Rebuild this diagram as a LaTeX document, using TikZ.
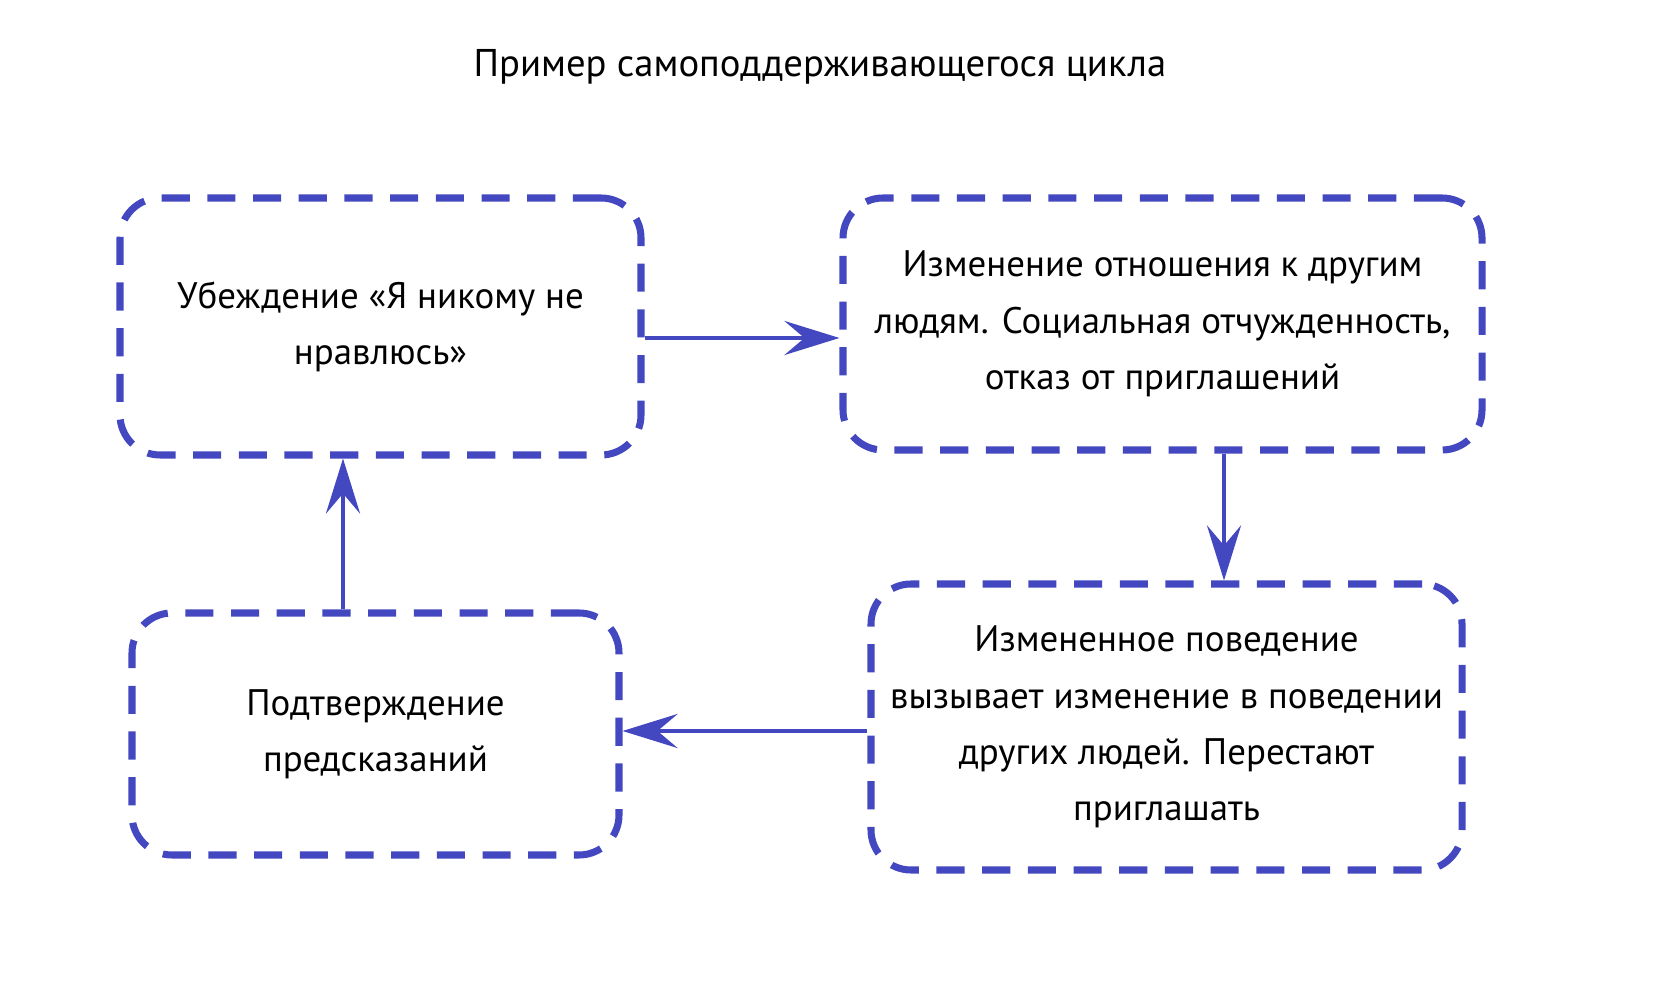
\documentclass[tikz,border=0pt]{standalone}
\usepackage{fontspec}
\setmainfont{PT Sans}
\usetikzlibrary{positioning}
\usetikzlibrary{arrows.meta}
\definecolor{cyclecol}{RGB}{68,72,192}

\begin{document}
\begin{tikzpicture}[
	box/.style={draw=cyclecol, line width=2pt, dash pattern=on 8pt off 5pt, rounded corners=4mm, align=center, inner sep=0pt, font=\fontsize{10.5}{16}\selectfont},
	link/.style={draw=cyclecol, line width=1.4pt, -{Stealth[length=5.5mm,width=3.4mm,inset=2mm]}}]
					\useasboundingbox (0,0) rectangle (16.8,-10);

					\node [font=\fontsize{11}{14}\selectfont] (title) at (8.2,-0.67) {Пример самоподдерживающегося цикла};

					\node [box, minimum width=5.21cm, minimum height=2.57cm] (belief) at (3.805,-3.265) {Убеждение «Я никому не\\нравлюсь»};
					\node [box, minimum width=6.39cm, minimum height=2.52cm] (attitude) at (11.625,-3.24) {Изменение отношения к другим\\людям. Социальная отчужденность,\\отказ от приглашений};
					\node [box, minimum width=5.91cm, minimum height=2.86cm] (behaviour) at (11.665,-7.27) {Измененное поведение\\вызывает изменение в поведении\\других людей. Перестают\\приглашать};
					\node [box, minimum width=4.87cm, minimum height=2.42cm] (proof) at (3.755,-7.34) {Подтверждение\\предсказаний};

					\coordinate (down) at (12.24,0);
					\coordinate (up) at (3.43,0);

					\draw [link] ([yshift=-1.15mm]belief.east) to ([yshift=-1.15mm]belief.east -| attitude.west);
					\draw [link] (attitude.south -| down) to (behaviour.north -| down);
					\draw [link] ([yshift=-0.4mm]behaviour.west) to ([yshift=-0.4mm]behaviour.west -| proof.east);
					\draw [link] (proof.north -| up) to (belief.south -| up);
				\end{tikzpicture}
\end{document}
